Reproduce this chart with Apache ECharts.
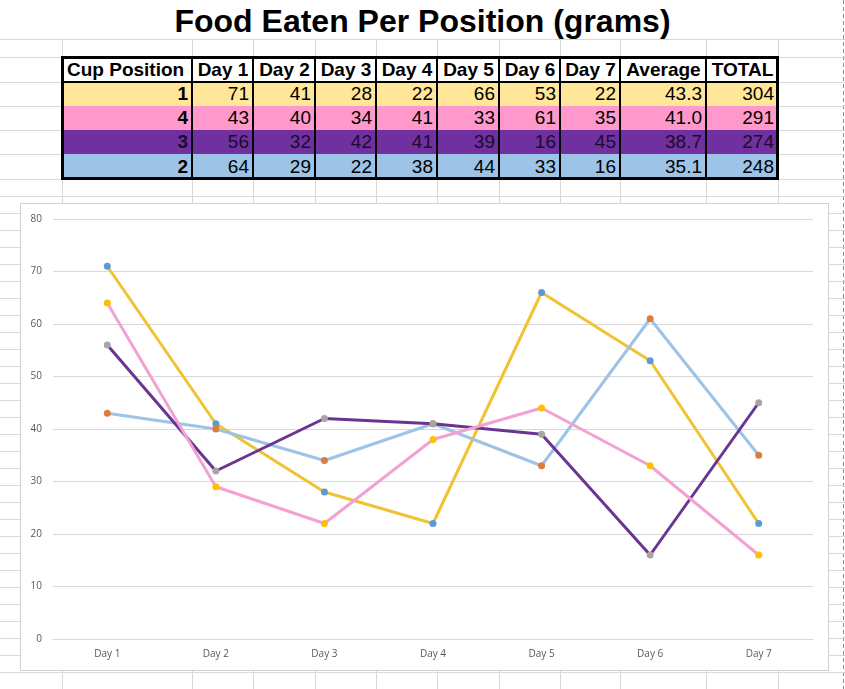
<!DOCTYPE html>
<html>
<head>
<meta charset="utf-8">
<script src="https://cdn.jsdelivr.net/npm/echarts@6/dist/echarts.min.js"></script>
<style>
  html, body { margin: 0; padding: 0; background: #fff; }
  #page { position: relative; width: 845px; height: 689px; overflow: hidden; background: #fff; }
  .gl { position: absolute; background: #d9d9d9; }
  .cell { position: absolute; box-sizing: border-box; font-family: "Liberation Sans", Arial, sans-serif; font-size: 19px; color: #000; white-space: nowrap; overflow: hidden; }
  .vl { position: absolute; background: #000; }
  #title { position: absolute; left: 0; width: 845px; top: 5px; line-height: 32px; text-align: center; font-family: "Liberation Sans", Arial, sans-serif; font-weight: bold; font-size: 32px; color: #000; }
  #chartBorder { position: absolute; left: 20px; top: 203px; width: 809px; height: 468px; box-sizing: border-box; border: 1px solid #d0d0d0; background: #fff; }
  #chart { position: absolute; left: 21px; top: 204px; width: 807px; height: 466px; }
</style>
</head>
<body>
<div id="page">
  <div id="title">Food Eaten Per Position (grams)</div>
  <div id="chartBorder"></div>
  <div id="chart"></div>
</div>
<script>
// ---------- data ----------
const categories = ['Day 1', 'Day 2', 'Day 3', 'Day 4', 'Day 5', 'Day 6', 'Day 7'];
const tableHeaders = ['Cup Position', 'Day 1', 'Day 2', 'Day 3', 'Day 4', 'Day 5', 'Day 6', 'Day 7', 'Average', 'TOTAL'];
const cupLabels = ['1', '4', '3', '2'];
const cup1 = [71, 41, 28, 22, 66, 53, 22];
const cup4 = [43, 40, 34, 41, 33, 61, 35];
const cup3 = [56, 32, 42, 41, 39, 16, 45];
const cup2 = [64, 29, 22, 38, 44, 33, 16];
const cupAverages = ['43.3', '41.0', '38.7', '35.1'];
const cupTotals = ['304', '291', '274', '248'];
const yTickMin = 0, yTickMax = 80, yTickStep = 10;

// ---------- spreadsheet background ----------
const page = document.getElementById('page');
const colEdges = [62, 192, 253, 315, 376, 437, 499, 560, 620, 706, 778];
const rowEdges = [57, 82, 106, 130, 154, 179];
function addDiv(cls, l, t, w, h, extra) {
  const d = document.createElement('div');
  d.className = cls;
  d.style.left = l + 'px'; d.style.top = t + 'px';
  d.style.width = w + 'px'; d.style.height = h + 'px';
  if (extra) Object.assign(d.style, extra);
  page.insertBefore(d, page.firstChild);
  return d;
}
// horizontal sheet lines
const hLines = [39].concat(rowEdges);
for (let y = 196; y < 689; y += 17) hLines.push(y);
hLines.forEach(y => addDiv('gl', 0, y, 845, 1));
// vertical sheet lines (below title row)
colEdges.forEach(x => addDiv('gl', x, 39, 1, 650));
// page break dashed line
addDiv('gl', 843, 0, 1, 689, { background: 'repeating-linear-gradient(to bottom, #8c8c8c 0 4px, transparent 4px 7px)' });

// ---------- table ----------
const rowBg = ['#FFFFFF', '#FFE699', '#FF99CC', '#7030A0', '#9DC3E6'];
const tableRows = [tableHeaders];
const dayRows = [cup1, cup4, cup3, cup2];
for (let i = 0; i < 4; i++) {
  tableRows.push([cupLabels[i]].concat(dayRows[i].map(String), [cupAverages[i], cupTotals[i]]));
}
const tbl = document.createElement('div');
page.appendChild(tbl);
function cell(l, t, w, h, text, opts) {
  const d = document.createElement('div');
  d.className = 'cell';
  d.style.left = l + 'px'; d.style.top = t + 'px';
  d.style.width = w + 'px'; d.style.height = h + 'px';
  d.style.lineHeight = h + 'px';
  Object.assign(d.style, opts);
  d.textContent = text;
  tbl.appendChild(d);
}
for (let r = 0; r < tableRows.length; r++) {
  const t = rowEdges[r], h = rowEdges[r + 1] - rowEdges[r];
  for (let c = 0; c < tableRows[r].length; c++) {
    const l = colEdges[c], w = colEdges[c + 1] - colEdges[c];
    const opts = { background: rowBg[r] };
    if (r === 0) {
      opts.fontWeight = 'bold';
      opts.textAlign = c === 0 ? 'left' : 'center';
      opts.paddingLeft = c === 0 ? '5px' : '1px';
    } else {
      opts.textAlign = 'right';
      opts.paddingRight = '4px';
      if (c === 0) opts.fontWeight = 'bold';
      if (r === 3) opts.color = '#1c0b2b';
    }
    cell(l, t, w, h, tableRows[r][c], opts);
  }
}
function line(l, t, w, h) {
  const d = document.createElement('div');
  d.className = 'vl';
  d.style.left = l + 'px'; d.style.top = t + 'px';
  d.style.width = w + 'px'; d.style.height = h + 'px';
  tbl.appendChild(d);
}
const tTop = rowEdges[0], tBot = rowEdges[rowEdges.length - 1];
const tL = colEdges[0], tR = colEdges[colEdges.length - 1];
for (let c = 1; c < colEdges.length - 1; c++) line(colEdges[c] - 1, tTop, 2, tBot - tTop);
line(tL, rowEdges[1] - 1, tR - tL, 2);
// outer border
line(tL - 1, tTop - 1, tR - tL + 2, 3);
line(tL - 1, tBot - 2, tR - tL + 2, 3);
line(tL - 1, tTop - 1, 3, tBot - tTop + 2);
line(tR - 2, tTop - 1, 3, tBot - tTop + 2);

// ---------- chart ----------
const chart = echarts.init(document.getElementById('chart'), null, { renderer: 'canvas' });
const labelFont = { color: '#595959', fontSize: 10, fontFamily: '"Open Sans", sans-serif' };
function mkSeries(name, data, lineColor, markerColor) {
  return {
    name: name, type: 'line', data: data,
    symbol: 'circle', symbolSize: 7, showSymbol: true,
    lineStyle: { color: lineColor, width: 3 },
    itemStyle: { color: markerColor },
    emphasis: { disabled: true },
    animation: false
  };
}
chart.setOption({
  animation: false,
  backgroundColor: '#ffffff',
  grid: { left: 32, right: 15, top: 15, bottom: 31 },
  xAxis: {
    type: 'category', data: categories, boundaryGap: true,
    axisLine: { show: true, lineStyle: { color: '#d9d9d9', width: 1 } },
    axisTick: { show: false },
    axisLabel: Object.assign({ margin: 10 }, labelFont)
  },
  yAxis: {
    type: 'value', min: yTickMin, max: yTickMax, interval: yTickStep,
    axisLine: { show: false }, axisTick: { show: false },
    splitLine: { lineStyle: { color: '#d9d9d9', width: 1 } },
    axisLabel: Object.assign({ margin: 11 }, labelFont)
  },
  series: [
    mkSeries('1', cup1, '#F1C232', '#5B9BD5'),
    mkSeries('4', cup4, '#9DC3E6', '#E07B3E'),
    mkSeries('3', cup3, '#6A3592', '#A5A5A5'),
    mkSeries('2', cup2, '#F2A2D2', '#FFC000')
  ]
});
</script>
</body>
</html>
